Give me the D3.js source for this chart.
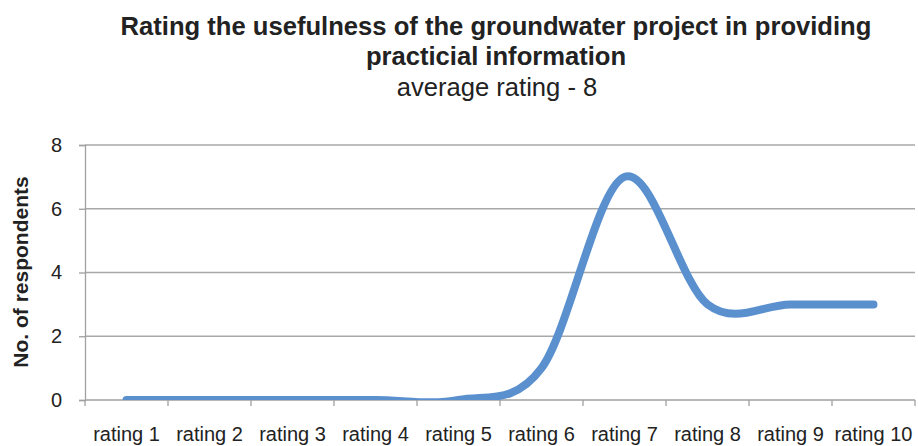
<!DOCTYPE html>
<html>
<head>
<meta charset="utf-8">
<script src="https://cdn.jsdelivr.net/npm/d3@7"></script>
<style>
  html, body { margin: 0; padding: 0; background: #fff; }
  text { font-family: "Liberation Sans", Arial, sans-serif; fill: #222; }
</style>
</head>
<body>
<div class="chart"></div>
<script>
// chart data
var categories = ["rating 1", "rating 2", "rating 3", "rating 4", "rating 5",
                  "rating 6", "rating 7", "rating 8", "rating 9", "rating 10"];
var respondents = [0, 0, 0, 0, 0, 1, 7, 3, 3, 3];
var yTicks = [0, 2, 4, 6, 8];
var titleLines = ["Rating the usefulness of the groundwater project in providing",
                  "practicial information"];
var subtitle = "average rating - 8";
var yLabel = "No. of respondents";

var W = 918, H = 446;
var margin = { top: 145, right: 3, bottom: 46, left: 85 },
    width = W - margin.left - margin.right,
    height = H - margin.top - margin.bottom;

var root = d3.select(".chart")
    .append("svg")
    .attr("width", W)
    .attr("height", H);

var svg = root.append("g")
    .attr("transform", "translate(" + margin.left + "," + margin.top + ")");

// scales
var x = d3.scaleBand().domain(categories).range([0, width]);
var y = d3.scaleLinear().domain([0, 8]).range([height, 0]);

// gridlines
svg.selectAll(".grid")
    .data(yTicks.filter(function (d) { return d > 0; }))
    .enter()
    .append("line")
    .attr("x1", 0)
    .attr("x2", width)
    .attr("y1", function (d) { return y(d); })
    .attr("y2", function (d) { return y(d); })
    .attr("stroke", "#a8a8a8")
    .attr("stroke-width", 1.3);

// y axis
var yAxis = svg.append("g")
    .call(d3.axisLeft(y).tickValues(yTicks).tickSize(6).tickPadding(17));
yAxis.select(".domain").attr("stroke", "#a0a0a0").attr("stroke-width", 1.3);
yAxis.selectAll(".tick line").attr("stroke", "#a0a0a0").attr("stroke-width", 1.3);
yAxis.selectAll(".tick text")
    .style("font-family", "Liberation Sans, Arial, sans-serif")
    .style("font-size", "20px")
    .attr("fill", "#222");

// x axis: ticks on band boundaries, labels at band centres
var xAxis = svg.append("g").attr("transform", "translate(0," + height + ")");
xAxis.append("line")
    .attr("x1", 0).attr("x2", width)
    .attr("stroke", "#a0a0a0").attr("stroke-width", 1.3);
var bounds = categories.map(function (c) { return x(c); }).concat([width]);
xAxis.selectAll(".xtick")
    .data(bounds)
    .enter()
    .append("line")
    .attr("x1", function (d) { return d; })
    .attr("x2", function (d) { return d; })
    .attr("y1", 0)
    .attr("y2", 6)
    .attr("stroke", "#a0a0a0")
    .attr("stroke-width", 1.3);
xAxis.selectAll(".xlabel")
    .data(categories)
    .enter()
    .append("text")
    .attr("x", function (d) { return x(d) + x.bandwidth() / 2; })
    .attr("y", 41)
    .attr("text-anchor", "middle")
    .style("font-size", "20px")
    .text(function (d) { return d; });

// clip the line to the plot area
svg.append("defs")
    .append("clipPath")
    .attr("id", "clip")
    .append("rect")
    .attr("x", -10)
    .attr("y", -20)
    .attr("width", width + 20)
    .attr("height", height + 20);

var line = d3.line()
    .x(function (d, i) { return x(categories[i]) + x.bandwidth() / 2; })
    .y(function (d) { return y(d); })
    .curve(d3.curveCardinal.tension(0));

svg.append("path")
    .datum(respondents)
    .attr("clip-path", "url(#clip)")
    .attr("d", line)
    .attr("fill", "none")
    .attr("stroke", "#5b90cf")
    .attr("stroke-width", 8)
    .attr("stroke-linecap", "round")
    .attr("stroke-linejoin", "round");

// titles
root.selectAll(".title")
    .data(titleLines)
    .enter()
    .append("text")
    .attr("x", 496)
    .attr("y", function (d, i) { return 35 + i * 30; })
    .attr("text-anchor", "middle")
    .style("font-size", "25.6px")
    .style("font-weight", "bold")
    .text(function (d) { return d; });

root.append("text")
    .attr("x", 497)
    .attr("y", 96)
    .attr("text-anchor", "middle")
    .style("font-size", "25.6px")
    .text(subtitle);

// y axis label
root.append("text")
    .attr("transform", "translate(28,272) rotate(-90)")
    .attr("text-anchor", "middle")
    .style("font-size", "21px")
    .style("font-weight", "bold")
    .text(yLabel);
</script>
</body>
</html>
